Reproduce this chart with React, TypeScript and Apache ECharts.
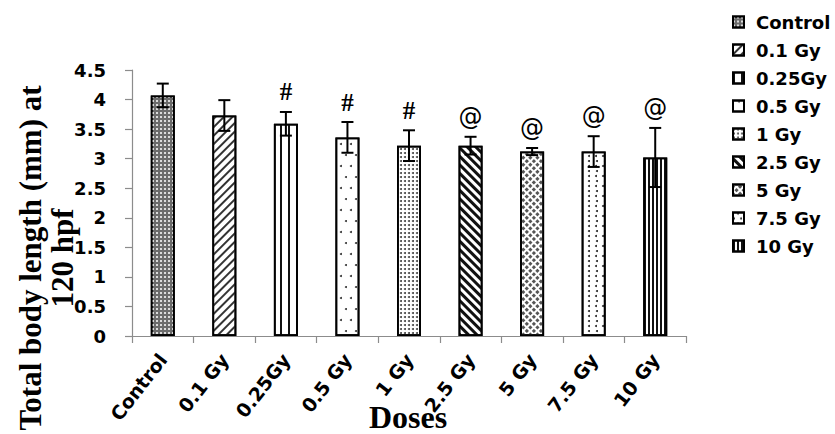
import React, { useEffect, useRef } from "react";
import * as echarts from "echarts";

// Dose groups, mean body length (mm) at 120 hpf, and standard deviation
const doses = ["Control", "0.1 Gy", "0.25Gy", "0.5 Gy", "1 Gy", "2.5 Gy", "5 Gy", "7.5 Gy", "10 Gy"];
const meanLength = [4.07, 3.73, 3.59, 3.36, 3.22, 3.22, 3.12, 3.12, 3.02];
const sdLength = [0.2, 0.26, 0.2, 0.26, 0.26, 0.15, 0.06, 0.26, 0.5];
const significance = ["", "", "#", "#", "#", "@", "@", "@", "@"];
const yTicks = { min: 0, max: 4.5, interval: 0.5 };

const SANS = "DejaVu Sans";
const SERIF = "Liberation Serif";

// Fill pattern for each dose group's bar
const patterns: any[] = [
  { fill: "#6b6b6b", decal: { symbol: "rect", symbolSize: 0.9, dashArrayX: [1.5, 1.5], dashArrayY: [1.5, 1.5], color: "#e8e8e8" } },
  { fill: "#ffffff", decal: { symbol: "rect", symbolSize: 1, dashArrayX: [1, 0], dashArrayY: [1.3, 3.2], rotation: -Math.PI / 4, color: "#333" } },
  { fill: "#ffffff", decal: { symbol: "rect", symbolSize: 1, dashArrayX: [2, 6], dashArrayY: [1, 0], color: "#111" } },
  { fill: "#ffffff", decal: { symbol: "circle", symbolSize: 1, dashArrayX: [[2, 8], [0, 5, 2, 3]], dashArrayY: [2, 8.5], color: "#333" } },
  { fill: "#ffffff", decal: { symbol: "circle", symbolSize: 1, dashArrayX: [1.6, 1.8], dashArrayY: [1.6, 1.8], color: "#444" } },
  { fill: "#ffffff", decal: { symbol: "rect", symbolSize: 1, dashArrayX: [1, 0], dashArrayY: [3, 3], rotation: Math.PI / 4, color: "#111" } },
  { fill: "#ffffff", decal: { symbol: "rect", symbolSize: 1, dashArrayX: [3, 2], dashArrayY: [3, 2], rotation: Math.PI / 4, color: "#555" } },
  { fill: "#ffffff", decal: { symbol: "circle", symbolSize: 1, dashArrayX: [[2, 5], [0, 3.5, 2, 1.5]], dashArrayY: [2, 3], color: "#222" } },
  { fill: "#ffffff", decal: { symbol: "rect", symbolSize: 1, dashArrayX: [1.4, 1.8], dashArrayY: [1, 0], color: "#111" } },
];

export default function App() {
  const ref = useRef<HTMLDivElement>(null);

  useEffect(() => {
    document.body.style.margin = "0";
    if (!ref.current) return;
    const chart = echarts.init(ref.current, undefined, { renderer: "svg" });

    const barSeries = doses.map((name, i) => ({
      name,
      type: "bar",
      barWidth: 24,
      barGap: "-100%",
      data: doses.map((_, j) => (j === i ? meanLength[i] : "-")),
      itemStyle: {
        color: patterns[i].fill,
        borderColor: "#000",
        borderWidth: 1.8,
        decal: patterns[i].decal,
      },
      z: 2,
    }));

    const errorData = meanLength.map((m, i) => [i, m - sdLength[i], m + sdLength[i], significance[i]]);

    const errorSeries = {
      type: "custom",
      name: "sd",
      data: errorData,
      z: 5,
      renderItem: (params: any, api: any) => {
        const idx = api.value(0);
        const lo = api.coord([idx, api.value(1)]);
        const hi = api.coord([idx, api.value(2)]);
        const mark = errorData[params.dataIndex][3] as string;
        const half = 6;
        const stroke = { stroke: "#000", lineWidth: 2 };
        const children: any[] = [
          { type: "line", shape: { x1: hi[0], y1: hi[1], x2: lo[0], y2: lo[1] }, style: stroke },
          { type: "line", shape: { x1: hi[0] - half, y1: hi[1], x2: hi[0] + half, y2: hi[1] }, style: stroke },
          { type: "line", shape: { x1: lo[0] - half, y1: lo[1], x2: lo[0] + half, y2: lo[1] }, style: stroke },
        ];
        if (mark) {
          children.push({
            type: "text",
            x: hi[0],
            y: hi[1] - 20,
            style: {
              text: mark,
              font: mark === "#" ? `bold 25px ${SERIF}` : `24px ${SANS}`,
              fill: "#000",
              align: "center",
              verticalAlign: "middle",
            },
          });
        }
        return { type: "group", children };
      },
    };

    chart.setOption({
      animation: false,
      backgroundColor: "#fff",
      grid: { left: 132, right: 149, top: 70, bottom: 98 },
      legend: {
        orient: "vertical",
        left: 727,
        top: 8,
        itemWidth: 11,
        itemHeight: 11,
        itemGap: 10,
        icon: "rect",
        data: doses,
        textStyle: {
          fontFamily: SANS,
          fontWeight: "bold",
          fontSize: 18,
          color: "#000",
          lineHeight: 17,
          padding: [0, 0, 0, 7],
        },
      },
      xAxis: {
        type: "category",
        data: doses,
        axisLine: { lineStyle: { color: "#8c8c8c", width: 1.2 } },
        axisTick: { show: true, length: 7, lineStyle: { color: "#8c8c8c", width: 1.2 } },
        axisLabel: {
          rotate: 52,
          margin: 20,
          fontFamily: SANS,
          fontWeight: "bold",
          fontSize: 19,
          color: "#000",
          interval: 0,
        },
      },
      yAxis: {
        type: "value",
        min: yTicks.min,
        max: yTicks.max,
        interval: yTicks.interval,
        splitLine: { show: false },
        axisLine: { show: true, lineStyle: { color: "#8c8c8c", width: 1.2 } },
        axisTick: { show: true, length: 7, lineStyle: { color: "#8c8c8c", width: 1.2 } },
        axisLabel: {
          margin: 26,
          fontFamily: SANS,
          fontWeight: "bold",
          fontSize: 18,
          color: "#000",
        },
      },
      graphic: [
        {
          type: "text",
          x: 46,
          y: 258,
          rotation: Math.PI / 2,
          style: {
            text: "Total body length (mm) at\n120 hpf",
            font: `bold 31px ${SERIF}`,
            fill: "#000",
            align: "center",
            verticalAlign: "middle",
            lineHeight: 32,
          },
          z: 10,
        },
        {
          type: "text",
          x: 408,
          y: 417,
          style: {
            text: "Doses",
            font: `bold 32px ${SERIF}`,
            fill: "#000",
            align: "center",
            verticalAlign: "middle",
            lineHeight: 30,
          },
          z: 10,
        },
      ],
      series: [...barSeries, errorSeries],
    });

    return () => chart.dispose();
  }, []);

  return <div ref={ref} style={{ width: 835, height: 434 }} />;
}
